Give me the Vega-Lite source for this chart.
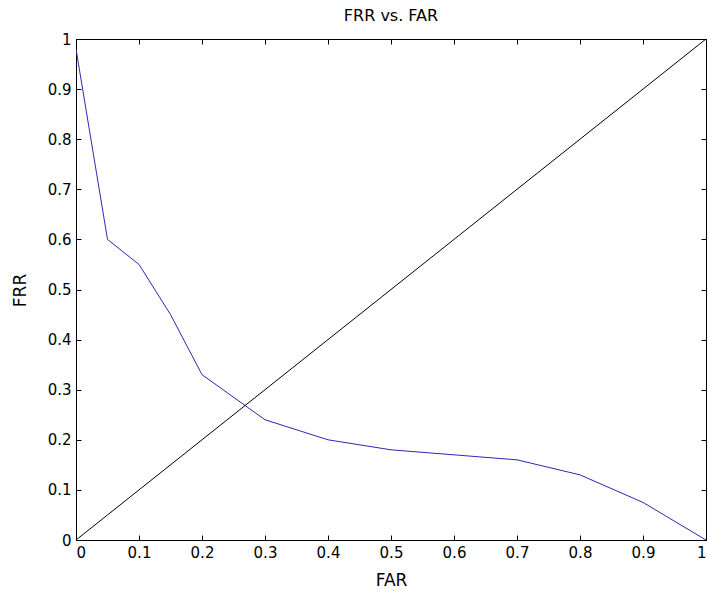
{
  "$schema": "https://vega.github.io/schema/vega-lite/v6.json",
  "width": 630,
  "height": 501,
  "autosize": {"type": "none"},
  "padding": {"left": 76, "top": 39, "right": 2, "bottom": 51},
  "background": "white",
  "title": {"text": "FRR vs. FAR", "font": "DejaVu Sans", "fontSize": 16, "fontWeight": "normal", "color": "black", "offset": 8},
  "config": {
    "view": {"stroke": "black", "strokeWidth": 1},
    "axis": {"domainColor": "black", "tickColor": "black", "labelColor": "black", "titleColor": "black", "labelFont": "DejaVu Sans", "titleFont": "DejaVu Sans", "labelFontSize": 15, "titleFontSize": 17, "titleFontWeight": "normal", "grid": false, "tickSize": -5, "tickWidth": 1, "domainWidth": 1, "format": "~g"}
  },
  "data": {"values": [
    {"series": "FRR", "FAR": 0.0, "FRR": 0.98},
    {"series": "FRR", "FAR": 0.05, "FRR": 0.60},
    {"series": "FRR", "FAR": 0.10, "FRR": 0.55},
    {"series": "FRR", "FAR": 0.15, "FRR": 0.45},
    {"series": "FRR", "FAR": 0.20, "FRR": 0.33},
    {"series": "FRR", "FAR": 0.30, "FRR": 0.24},
    {"series": "FRR", "FAR": 0.40, "FRR": 0.20},
    {"series": "FRR", "FAR": 0.50, "FRR": 0.18},
    {"series": "FRR", "FAR": 0.60, "FRR": 0.17},
    {"series": "FRR", "FAR": 0.70, "FRR": 0.16},
    {"series": "FRR", "FAR": 0.80, "FRR": 0.13},
    {"series": "FRR", "FAR": 0.90, "FRR": 0.075},
    {"series": "FRR", "FAR": 1.00, "FRR": 0.0},
    {"series": "diag", "FAR": 0.0, "FRR": 0.0},
    {"series": "diag", "FAR": 1.0, "FRR": 1.0}
  ]},
  "resolve": {"axis": {"x": "independent", "y": "independent"}},
  "layer": [
    {
      "mark": {"type": "line", "strokeWidth": 1, "clip": true},
      "encoding": {
        "x": {"field": "FAR", "type": "quantitative", "scale": {"domain": [0, 1], "nice": false, "zero": false},
              "axis": {"orient": "bottom", "values": [0,0.1,0.2,0.3,0.4,0.5,0.6,0.7,0.8,0.9,1], "labelPadding": 10, "title": "FAR", "titleY": 40, "titleBaseline": "middle"}},
        "y": {"field": "FRR", "type": "quantitative", "scale": {"domain": [0, 1], "nice": false, "zero": false},
              "axis": {"orient": "left", "values": [0,0.1,0.2,0.3,0.4,0.5,0.6,0.7,0.8,0.9,1], "labelPadding": 10, "title": "FRR", "titleX": -56, "titleY": 251, "titleBaseline": "middle", "titleAngle": -90, "titleAlign": "center"}},
        "color": {"field": "series", "type": "nominal", "scale": {"domain": ["FRR", "diag"], "range": ["#2a2ab4", "#000000"]}, "legend": null},
        "detail": {"field": "series"}
      }
    },
    {
      "mark": {"type": "point", "opacity": 0},
      "encoding": {
        "x": {"field": "FAR", "type": "quantitative", "axis": {"orient": "top", "values": [0,0.1,0.2,0.3,0.4,0.5,0.6,0.7,0.8,0.9,1], "labels": false, "title": null}},
        "y": {"field": "FRR", "type": "quantitative", "axis": {"orient": "right", "values": [0,0.1,0.2,0.3,0.4,0.5,0.6,0.7,0.8,0.9,1], "labels": false, "title": null}}
      }
    }
  ]
}
